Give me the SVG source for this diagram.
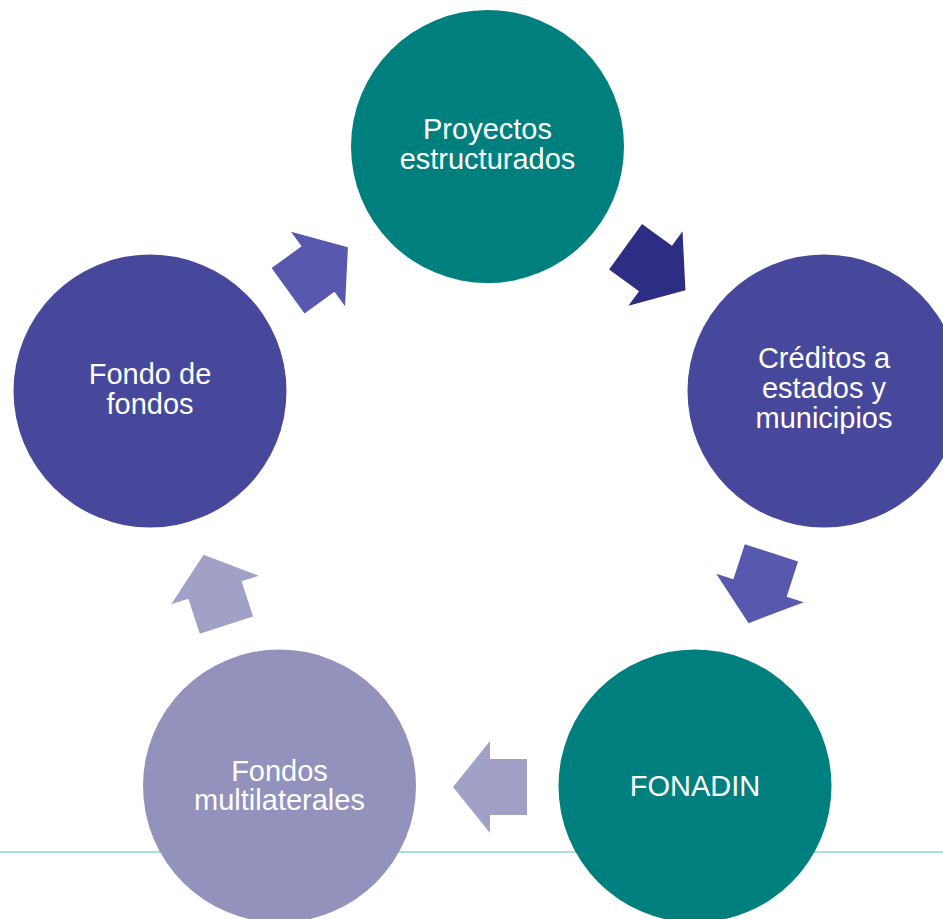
<svg xmlns="http://www.w3.org/2000/svg" width="943" height="919" viewBox="0 0 943 919">
  <style>
    .lbl { font-family: "Liberation Sans", Arial, sans-serif; font-size: 29px; fill: #ffffff; text-anchor: middle; }
    .teal { fill: #007F7F; }
    .purple { fill: #47489C; }
    .lilac { fill: #9292BD; }
    .a-dark { fill: #2E2D84; }
    .a-mid { fill: #5858AE; }
    .a-light { fill: #A1A1C7; }
  </style>
  <defs>
    <polygon id="blockArrow" points="-37,-28 0,-28 0,-46 37,0 0,46 0,28 -37,28"/>
  </defs>
  <rect x="0" y="0" width="943" height="919" fill="#ffffff"/>
  <line x1="0" y1="852" x2="943" y2="852" stroke="#90D4D0" stroke-width="1.5"/>

  <g id="connectors">
    <use href="#blockArrow" class="a-dark" transform="translate(655.5,268.5) rotate(36)"/>
    <use href="#blockArrow" class="a-mid" transform="translate(760,588) rotate(108)"/>
    <use href="#blockArrow" class="a-light" transform="translate(490,787) rotate(180)"/>
    <use href="#blockArrow" class="a-light" transform="translate(215,590) rotate(252)"/>
    <use href="#blockArrow" class="a-mid" transform="translate(318,269) rotate(324)"/>
  </g>

  <g id="node-proyectos">
    <circle class="teal" cx="487.5" cy="146.5" r="136.5"/>
    <text class="lbl" x="487.5" y="139">Proyectos</text>
    <text class="lbl" x="487.5" y="169">estructurados</text>
  </g>

  <g id="node-creditos">
    <circle class="purple" cx="824" cy="391" r="136.5"/>
    <text class="lbl" x="824" y="368">Créditos a</text>
    <text class="lbl" x="824" y="398">estados y</text>
    <text class="lbl" x="824" y="428">municipios</text>
  </g>

  <g id="node-fonadin">
    <circle class="teal" cx="695" cy="786" r="136.5"/>
    <text class="lbl" x="695" y="796">FONADIN</text>
  </g>

  <g id="node-multilaterales">
    <circle class="lilac" cx="279.5" cy="786" r="136.5"/>
    <text class="lbl" x="279.5" y="781">Fondos</text>
    <text class="lbl" x="279.5" y="810">multilaterales</text>
  </g>

  <g id="node-fondo-de-fondos">
    <circle class="purple" cx="150" cy="391" r="136.5"/>
    <text class="lbl" x="150" y="384">Fondo de</text>
    <text class="lbl" x="150" y="414">fondos</text>
  </g>
</svg>
